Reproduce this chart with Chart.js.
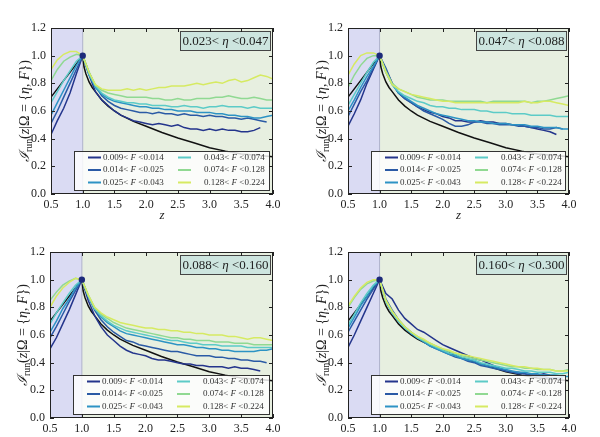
<!DOCTYPE html>
<html>
<head>
<meta charset="utf-8">
<script src="https://cdn.jsdelivr.net/npm/chart.js@4.4.1/dist/chart.umd.min.js"></script>
<style>
  html, body { margin: 0; padding: 0; background: #fff; }
  #wrap { position: relative; width: 600px; height: 437px; overflow: hidden; }
  canvas { position: absolute; }
</style>
</head>
<body>
<div id="wrap">
  <canvas id="p1" width="300" height="220" style="left:0;top:0"></canvas>
  <canvas id="p2" width="300" height="220" style="left:300px;top:0"></canvas>
  <canvas id="p3" width="300" height="217" style="left:0;top:220px"></canvas>
  <canvas id="p4" width="300" height="217" style="left:300px;top:220px"></canvas>
</div>
<script>
// data
const zValues = [0.5, 0.6, 0.7, 0.8, 0.9, 1.0,
  1.1, 1.2, 1.3, 1.4, 1.5, 1.6, 1.7, 1.8, 1.9, 2.0,
  2.1, 2.2, 2.3, 2.4, 2.5, 2.6, 2.7, 2.8, 2.9, 3.0,
  3.1, 3.2, 3.3, 3.4, 3.5, 3.6, 3.7, 3.8, 3.9, 4.0];

const fBins = ['0.009<|F|<0.014', '0.014<|F|<0.025', '0.025<|F|<0.043',
               '0.043<|F|<0.074', '0.074<|F|<0.128', '0.128<|F|<0.224'];
const etaBins = ['0.023<|η|<0.047', '0.047<|η|<0.088', '0.088<|η|<0.160', '0.160<|η|<0.300'];

const xTicks = [0.5, 1.0, 1.5, 2.0, 2.5, 3.0, 3.5, 4.0];
const yTicks = [0.0, 0.2, 0.4, 0.6, 0.8, 1.0, 1.2];

// reference curve (black)
const blackZ = [0.5, 1.0, 1.02, 1.05, 1.1, 1.15, 1.2, 1.3, 1.4, 1.5, 1.6, 1.8, 2.0, 2.25, 2.5, 2.75, 3.0, 3.25, 3.5, 3.75, 4.0];
const blackY = [0.70, 1.0, 0.92, 0.87, 0.81, 0.77, 0.74, 0.68, 0.635, 0.60, 0.57, 0.525, 0.49, 0.445, 0.405, 0.37, 0.335, 0.31, 0.29, 0.28, 0.27];

// panel 1: 0.023 < eta < 0.047
const p1_s1 = [0.43, 0.53, 0.62, 0.73, 0.87, 1.0,
  0.86, 0.74, 0.68, 0.64, 0.60, 0.57, 0.55, 0.53, 0.52, 0.51,
  0.50, 0.51, 0.50, 0.49, 0.50, 0.48, 0.47, 0.47, 0.46, 0.47,
  0.46, 0.47, 0.46, 0.46, 0.45, 0.45, 0.46, 0.48, null, null];
const p1_s2 = [0.51, 0.60, 0.70, 0.80, 0.90, 1.0,
  0.88, 0.78, 0.71, 0.67, 0.64, 0.62, 0.61, 0.60, 0.59, 0.59,
  0.58, 0.59, 0.58, 0.58, 0.57, 0.58, 0.57, 0.57, 0.56, 0.57,
  0.56, 0.56, 0.55, 0.55, 0.54, 0.55, 0.54, 0.53, 0.52, null];
const p1_s3 = [0.57, 0.66, 0.75, 0.84, 0.93, 1.0,
  0.86, 0.77, 0.72, 0.69, 0.67, 0.66, 0.65, 0.64, 0.63, 0.63,
  0.62, 0.62, 0.61, 0.61, 0.60, 0.60, 0.60, 0.59, 0.59, 0.59,
  0.58, 0.58, 0.57, 0.57, 0.56, 0.56, 0.55, 0.55, 0.56, 0.57];
const p1_s4 = [0.66, 0.74, 0.82, 0.89, 0.96, 1.0,
  0.87, 0.78, 0.73, 0.70, 0.68, 0.67, 0.66, 0.66, 0.65, 0.65,
  0.64, 0.64, 0.64, 0.63, 0.63, 0.64, 0.63, 0.63, 0.62, 0.63,
  0.63, 0.64, 0.63, 0.63, 0.63, 0.62, 0.63, 0.62, 0.62, 0.62];
const p1_s5 = [0.82, 0.90, 0.96, 0.99, 1.01, 1.0,
  0.88, 0.79, 0.75, 0.73, 0.72, 0.71, 0.70, 0.70, 0.70, 0.70,
  0.69, 0.69, 0.68, 0.68, 0.69, 0.68, 0.68, 0.69, 0.69, 0.69,
  0.70, 0.70, 0.71, 0.70, 0.69, 0.69, 0.70, 0.69, 0.68, 0.68];
const p1_s6 = [0.90, 0.97, 1.01, 1.03, 1.03, 1.0,
  0.88, 0.79, 0.76, 0.75, 0.75, 0.75, 0.76, 0.75, 0.76, 0.75,
  0.76, 0.77, 0.77, 0.78, 0.78, 0.78, 0.79, 0.80, 0.79, 0.80,
  0.81, 0.80, 0.82, 0.83, 0.81, 0.82, 0.84, 0.86, 0.85, 0.83];

// panel 2: 0.047 < eta < 0.088
const p2_s1 = [0.49, 0.58, 0.68, 0.80, 0.90, 1.0,
  0.90, 0.80, 0.73, 0.69, 0.66, 0.63, 0.61, 0.59, 0.58, 0.56,
  0.55, 0.53, 0.53, 0.52, 0.52, 0.53, 0.52, 0.52, 0.51, 0.51,
  0.50, 0.50, 0.49, 0.48, 0.47, 0.46, 0.45, 0.43, null, null];
const p2_s2 = [0.56, 0.65, 0.74, 0.82, 0.91, 1.0,
  0.91, 0.80, 0.73, 0.69, 0.66, 0.63, 0.60, 0.58, 0.56, 0.54,
  0.51, 0.49, 0.49, 0.50, 0.52, 0.52, 0.51, 0.51, 0.50, 0.50,
  0.50, 0.49, 0.49, 0.48, 0.48, 0.47, 0.47, 0.48, 0.47, null];
const p2_s3 = [0.60, 0.68, 0.77, 0.85, 0.92, 1.0,
  0.88, 0.79, 0.73, 0.70, 0.67, 0.64, 0.62, 0.60, 0.58, 0.57,
  0.56, 0.55, 0.54, 0.53, 0.53, 0.52, 0.52, 0.51, 0.51, 0.51,
  0.50, 0.50, 0.50, 0.49, 0.49, 0.48, 0.48, 0.48, 0.47, 0.47];
const p2_s4 = [0.64, 0.72, 0.80, 0.88, 0.95, 1.0,
  0.88, 0.79, 0.74, 0.71, 0.69, 0.67, 0.66, 0.64, 0.63, 0.63,
  0.62, 0.62, 0.61, 0.61, 0.61, 0.60, 0.60, 0.59, 0.59, 0.59,
  0.58, 0.58, 0.58, 0.57, 0.57, 0.57, 0.57, 0.56, 0.56, 0.56];
const p2_s5 = [0.77, 0.86, 0.93, 0.98, 1.00, 1.0,
  0.89, 0.80, 0.76, 0.74, 0.72, 0.70, 0.69, 0.68, 0.68, 0.68,
  0.67, 0.67, 0.67, 0.67, 0.67, 0.67, 0.66, 0.67, 0.67, 0.67,
  0.67, 0.67, 0.67, 0.66, 0.67, 0.67, 0.68, 0.69, 0.70, 0.71];
const p2_s6 = [0.86, 0.94, 1.00, 1.02, 1.02, 1.0,
  0.88, 0.79, 0.76, 0.74, 0.72, 0.71, 0.70, 0.69, 0.68, 0.67,
  0.67, 0.66, 0.66, 0.66, 0.66, 0.66, 0.66, 0.66, 0.66, 0.66,
  0.66, 0.66, 0.67, 0.66, 0.66, 0.67, 0.67, 0.66, 0.65, 0.64];

// panel 3: 0.088 < eta < 0.160
const p3_s1 = [0.50, 0.58, 0.68, 0.78, 0.89, 1.0,
  0.85, 0.74, 0.66, 0.60, 0.56, 0.52, 0.49, 0.47, 0.46, 0.45,
  0.43, 0.42, 0.42, 0.41, 0.40, 0.39, 0.39, 0.38, 0.38, 0.37,
  0.37, 0.37, 0.36, 0.37, 0.36, 0.36, 0.35, 0.34, null, null];
const p3_s2 = [0.58, 0.66, 0.75, 0.84, 0.92, 1.0,
  0.88, 0.78, 0.71, 0.66, 0.62, 0.59, 0.56, 0.55, 0.53, 0.52,
  0.51, 0.50, 0.49, 0.48, 0.48, 0.47, 0.46, 0.45, 0.45, 0.45,
  0.44, 0.44, 0.43, 0.43, 0.42, 0.42, 0.41, 0.41, 0.40, null];
const p3_s3 = [0.62, 0.70, 0.79, 0.86, 0.94, 1.0,
  0.88, 0.79, 0.73, 0.69, 0.66, 0.63, 0.61, 0.60, 0.59, 0.58,
  0.57, 0.56, 0.55, 0.54, 0.53, 0.53, 0.52, 0.51, 0.51, 0.50,
  0.50, 0.49, 0.49, 0.48, 0.48, 0.48, 0.48, 0.49, 0.49, 0.50];
const p3_s4 = [0.68, 0.76, 0.83, 0.90, 0.96, 1.0,
  0.88, 0.79, 0.74, 0.70, 0.67, 0.65, 0.63, 0.62, 0.61, 0.60,
  0.59, 0.58, 0.57, 0.56, 0.56, 0.55, 0.54, 0.54, 0.53, 0.53,
  0.53, 0.52, 0.52, 0.52, 0.52, 0.51, 0.51, 0.51, 0.51, 0.51];
const p3_s5 = [0.85, 0.91, 0.96, 0.99, 1.01, 1.0,
  0.89, 0.80, 0.75, 0.72, 0.69, 0.67, 0.65, 0.64, 0.63, 0.62,
  0.61, 0.60, 0.59, 0.58, 0.58, 0.57, 0.57, 0.56, 0.56, 0.56,
  0.55, 0.55, 0.55, 0.54, 0.54, 0.54, 0.53, 0.53, 0.53, 0.53];
const p3_s6 = [0.80, 0.88, 0.94, 0.98, 1.01, 1.0,
  0.89, 0.80, 0.76, 0.73, 0.71, 0.69, 0.68, 0.67, 0.66, 0.65,
  0.65, 0.64, 0.64, 0.63, 0.63, 0.62, 0.62, 0.61, 0.61, 0.60,
  0.60, 0.60, 0.59, 0.59, 0.58, 0.57, 0.58, 0.58, 0.57, 0.56];

// panel 4: 0.160 < eta < 0.300
const p4_s1 = [0.51, 0.60, 0.70, 0.80, 0.90, 1.0,
  0.90, 0.86, 0.78, 0.72, 0.68, 0.64, 0.62, 0.59, 0.56, 0.53,
  0.51, 0.49, 0.47, 0.45, 0.43, 0.42, 0.40, 0.38, 0.36, 0.34,
  0.33, 0.33, 0.32, 0.31, 0.31, 0.32, 0.31, null, null, null];
const p4_s2 = [0.62, 0.70, 0.78, 0.86, 0.93, 1.0,
  0.86, 0.78, 0.71, 0.66, 0.62, 0.58, 0.55, 0.52, 0.50, 0.48,
  0.46, 0.44, 0.43, 0.41, 0.40, 0.38, 0.37, 0.36, 0.35, 0.34,
  0.33, 0.32, 0.32, 0.31, 0.30, 0.30, 0.29, 0.29, 0.29, null];
const p4_s3 = [0.65, 0.73, 0.81, 0.88, 0.95, 1.0,
  0.84, 0.76, 0.70, 0.65, 0.61, 0.58, 0.55, 0.52, 0.50, 0.48,
  0.46, 0.45, 0.43, 0.42, 0.41, 0.39, 0.38, 0.37, 0.36, 0.35,
  0.34, 0.33, 0.33, 0.32, 0.32, 0.31, 0.31, 0.31, 0.30, 0.30];
const p4_s4 = [0.67, 0.75, 0.83, 0.90, 0.96, 1.0,
  0.84, 0.76, 0.70, 0.65, 0.62, 0.58, 0.56, 0.53, 0.51, 0.49,
  0.47, 0.46, 0.44, 0.43, 0.42, 0.40, 0.39, 0.38, 0.37, 0.36,
  0.36, 0.35, 0.34, 0.34, 0.33, 0.33, 0.33, 0.32, 0.32, 0.33];
const p4_s5 = [0.80, 0.87, 0.93, 0.97, 0.99, 1.0,
  0.85, 0.77, 0.71, 0.66, 0.62, 0.59, 0.56, 0.54, 0.52, 0.50,
  0.48, 0.47, 0.45, 0.44, 0.43, 0.42, 0.41, 0.40, 0.39, 0.38,
  0.37, 0.37, 0.36, 0.36, 0.35, 0.35, 0.35, 0.34, 0.34, 0.35];
const p4_s6 = [0.81, 0.88, 0.94, 0.98, 1.00, 1.0,
  0.85, 0.77, 0.71, 0.66, 0.62, 0.59, 0.57, 0.54, 0.52, 0.50,
  0.49, 0.47, 0.46, 0.45, 0.44, 0.43, 0.42, 0.41, 0.40, 0.39,
  0.38, 0.37, 0.37, 0.36, 0.36, 0.35, 0.35, 0.34, 0.34, 0.34];

const lineColors = ['#24358c', '#2a5aa5', '#2c93c4', '#5ccbc7', '#90d992', '#d6ea62'];

const serif = '"Liberation Serif", "DejaVu Serif", serif';

/* helpers
############################################################################ */

// draw text pieces in a row, centred on x
const drawPieces = (ctx, pieces, x, y, size) => {
  ctx.save();
  ctx.textBaseline = 'middle';
  ctx.textAlign = 'left';
  const fontOf = p => (p.it ? 'italic ' : '') + (p.sub ? size * 0.7 : size) + 'px ' + serif;
  let total = 0;
  pieces.forEach(p => {
    ctx.font = fontOf(p);
    p.w = ctx.measureText(p.t).width;
    total += p.w;
  });
  let cx = x - total / 2;
  pieces.forEach(p => {
    ctx.font = fontOf(p);
    ctx.fillText(p.t, cx, y + (p.sub ? size * 0.3 : 0));
    cx += p.w;
  });
  ctx.restore();
  return total;
};

// 'a|b|c' -> a, italic b, c
const splitLabel = (label) => {
  const [a, b, c] = label.split('|');
  return [{t: a + ' '}, {t: b, it: true}, {t: ' ' + c}];
};

const textWidth = (ctx, pieces, size) => {
  let w = 0;
  pieces.forEach(p => {
    ctx.font = (p.it ? 'italic ' : '') + size + 'px ' + serif;
    w += ctx.measureText(p.t).width;
  });
  return w;
};

const panelDecor = {
  id: 'panelDecor',
  beforeDatasetsDraw(chart) {
    const {ctx, chartArea: ca, scales: {x}} = chart;
    const x1 = x.getPixelForValue(1.0);
    ctx.save();
    ctx.fillStyle = '#dadbf3';
    ctx.fillRect(ca.left, ca.top, x1 - ca.left, ca.bottom - ca.top);
    ctx.fillStyle = '#e7efe0';
    ctx.fillRect(x1, ca.top, ca.right - x1, ca.bottom - ca.top);
    ctx.strokeStyle = '#aeb2cc';
    ctx.lineWidth = 1;
    ctx.beginPath();
    ctx.moveTo(x1, ca.top);
    ctx.lineTo(x1, ca.bottom);
    ctx.stroke();
    ctx.restore();
  },
  afterDatasetsDraw(chart, args, opts) {
    const {ctx, chartArea: ca, scales: {x, y}} = chart;
    ctx.save();

    // legend box
    const L = ca.left + 23, R = ca.right - 3, T = ca.bottom - 43, B = ca.bottom - 3;
    ctx.fillStyle = 'rgba(255,255,255,0.82)';
    ctx.fillRect(L, T, R - L, B - T);
    ctx.strokeStyle = '#333';
    ctx.lineWidth = 1;
    ctx.strokeRect(L + 0.5, T + 0.5, R - L - 1, B - T - 1);
    const rows = [T + 6.5, T + 19, T + 31.5];
    fBins.forEach((lab, i) => {
      const col = i < 3 ? 0 : 1;
      const ry = rows[i % 3];
      const sx = col ? L + 104 : L + 14;
      ctx.strokeStyle = lineColors[i];
      ctx.lineWidth = 2;
      ctx.beginPath();
      ctx.moveTo(sx, ry);
      ctx.lineTo(sx + 13, ry);
      ctx.stroke();
      ctx.fillStyle = '#333';
      const pieces = splitLabel(lab);
      const w = textWidth(ctx, pieces, 9);
      drawPieces(ctx, pieces, (col ? L + 130 : L + 29) + w / 2, ry, 9);
    });

    // eta box
    const bx = ca.right - 93, by = ca.top + 3;
    ctx.fillStyle = '#cde5df';
    ctx.fillRect(bx, by, 91, 20);
    ctx.strokeStyle = '#444';
    ctx.lineWidth = 1;
    ctx.strokeRect(bx + 0.5, by + 0.5, 90, 19);
    ctx.fillStyle = '#222';
    drawPieces(ctx, splitLabel(opts.eta), bx + 45.5, by + 10.5, 13);

    // frame + inward ticks
    ctx.strokeStyle = '#222';
    ctx.lineWidth = 1;
    ctx.strokeRect(ca.left + 0.5, ca.top + 0.5, ca.right - ca.left - 1, ca.bottom - ca.top - 1);
    ctx.beginPath();
    xTicks.forEach(v => {
      const px = Math.round(x.getPixelForValue(v)) + 0.5;
      ctx.moveTo(px, ca.bottom); ctx.lineTo(px, ca.bottom - 4);
      ctx.moveTo(px, ca.top); ctx.lineTo(px, ca.top + 4);
    });
    yTicks.forEach(v => {
      const py = Math.round(y.getPixelForValue(v)) + 0.5;
      ctx.moveTo(ca.left, py); ctx.lineTo(ca.left + 4, py);
      ctx.moveTo(ca.right, py); ctx.lineTo(ca.right - 4, py);
    });
    ctx.stroke();
    ctx.restore();
  },
  afterDraw(chart, args, opts) {
    const {ctx, chartArea: ca} = chart;
    ctx.save();
    ctx.fillStyle = '#222';
    if (opts.showZ) {
      drawPieces(ctx, [{t: 'z', it: true}], (ca.left + ca.right) / 2, ca.bottom + 22, 13);
    }
    ctx.translate(opts.yLabelX, (ca.top + ca.bottom) / 2);
    ctx.rotate(-Math.PI / 2);
    drawPieces(ctx, [
      {t: 'ℐ', it: true}, {t: 'run', sub: true}, {t: '('}, {t: 'z', it: true},
      {t: '|Ω = {'}, {t: 'η', it: true}, {t: ', '}, {t: 'F', it: true}, {t: '})'}
    ], 0, 0, 14);
    ctx.restore();
  }
};

/* panels
############################################################################ */

const makePanel = (id, series, eta, geo) => {
  const canvas = document.getElementById(id);
  const H = canvas.height, W = canvas.width;

  const datasets = series.map((vals, i) => ({
    label: fBins[i],
    data: zValues.map((z, k) => ({x: z, y: vals[k]})),
    borderColor: lineColors[i],
    borderWidth: 1.5,
    pointRadius: 0,
    fill: false,
    order: 6 - i,
  }));
  datasets.push({
    label: 'reference',
    data: blackZ.map((z, k) => ({x: z, y: blackY[k]})),
    borderColor: '#111',
    borderWidth: 1.5,
    pointRadius: 0,
    fill: false,
    order: 7,
  });
  datasets.push({
    label: 'start',
    data: [{x: 1.0, y: 1.0}],
    showLine: false,
    pointRadius: 3.2,
    pointBackgroundColor: '#1d2a7a',
    pointBorderWidth: 0,
    order: 0,
  });

  new Chart(canvas, {
    type: 'line',
    data: {datasets},
    options: {
      responsive: false,
      animation: false,
      devicePixelRatio: 1,
      layout: {padding: {left: 0, top: geo.t, right: W - geo.r, bottom: 0}},
      scales: {
        x: {
          type: 'linear', min: 0.5, max: 4.0,
          grid: {display: false, drawTicks: false},
          border: {display: false},
          ticks: {
            stepSize: 0.5, autoSkip: false, maxRotation: 0, padding: 4,
            color: '#222', font: {family: serif, size: 12},
            callback: v => v.toFixed(1),
          },
          afterFit: s => { s.height = H - geo.b; },
        },
        y: {
          min: 0, max: 1.2,
          grid: {display: false, drawTicks: false},
          border: {display: false},
          ticks: {
            stepSize: 0.2, padding: 5,
            color: '#222', font: {family: serif, size: 12},
            callback: v => v.toFixed(1),
          },
          afterFit: s => { s.width = geo.l; },
        },
      },
      plugins: {
        legend: {display: false},
        tooltip: {enabled: false},
        panelDecor: {eta, yLabelX: geo.yl, showZ: geo.z},
      },
    },
    plugins: [panelDecor],
  });
};

document.fonts.load('12px "Liberation Serif"').finally(() => {
  makePanel('p1', [p1_s1, p1_s2, p1_s3, p1_s4, p1_s5, p1_s6], etaBins[0], {l: 51, t: 28, r: 273, b: 194, yl: 25, z: true});
  makePanel('p2', [p2_s1, p2_s2, p2_s3, p2_s4, p2_s5, p2_s6], etaBins[1], {l: 48, t: 28, r: 269, b: 194, yl: 22, z: true});
  makePanel('p3', [p3_s1, p3_s2, p3_s3, p3_s4, p3_s5, p3_s6], etaBins[2], {l: 50, t: 32, r: 273, b: 198, yl: 23, z: false});
  makePanel('p4', [p4_s1, p4_s2, p4_s3, p4_s4, p4_s5, p4_s6], etaBins[3], {l: 48, t: 32, r: 269, b: 198, yl: 22, z: false});
});
</script>
</body>
</html>
